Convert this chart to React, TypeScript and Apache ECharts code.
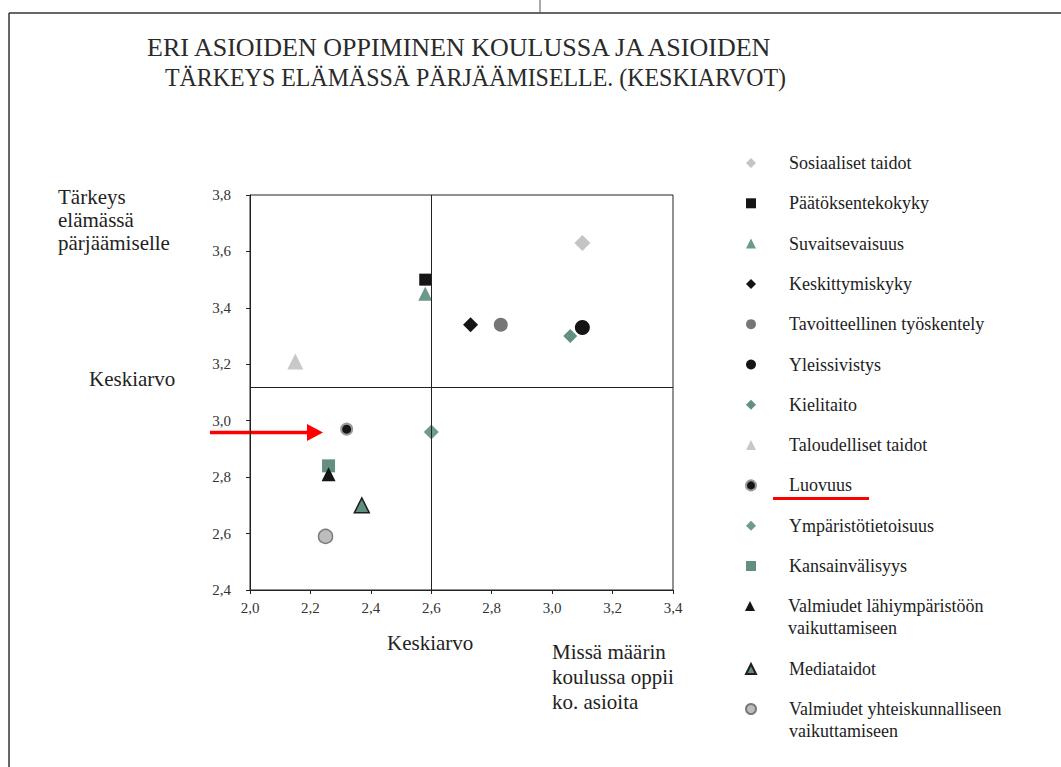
import React, { useEffect, useRef } from "react";
import * as echarts from "echarts";

const names = [
  "Sosiaaliset taidot",
  "Päätöksentekokyky",
  "Suvaitsevaisuus",
  "Keskittymiskyky",
  "Tavoitteellinen työskentely",
  "Yleissivistys",
  "Kielitaito",
  "Taloudelliset taidot",
  "Luovuus",
  "Ympäristötietoisuus",
  "Kansainvälisyys",
  "Valmiudet lähiympäristöön vaikuttamiseen",
  "Mediataidot",
  "Valmiudet yhteiskunnalliseen vaikuttamiseen",
];
const schoolValues = [3.1, 2.58, 2.58, 2.73, 2.83, 3.1, 3.06, 2.15, 2.32, 2.6, 2.26, 2.26, 2.37, 2.25];
const lifeValues = [3.63, 3.5, 3.45, 3.34, 3.34, 3.33, 3.3, 3.21, 2.97, 2.96, 2.84, 2.81, 2.7, 2.59];
const meanSchool = 2.6;
const meanLife = 3.12;
const xTicks = { min: 2.0, max: 3.4, step: 0.2 };
const yTicks = { min: 2.4, max: 3.8, step: 0.2 };

const symbols = ["diamond", "rect", "triangle", "diamond", "circle", "circle", "diamond", "triangle", "circle", "diamond", "rect", "triangle", "triangle", "circle"];
const colors = ["#c4c4c4", "#151515", "#6b9a8b", "#151515", "#767676", "#151515", "#628f80", "#c8c8c8", "#151515", "#6f9b8d", "#628f80", "#151515", "#5f8d7e", "#bdbdbd"];
const sizes = [16, 12, 14, 15, 14, 15, 14, 16, 11, 15, 13, 14, 15, 14];
const borderColors = ["", "", "", "", "", "", "", "", "#9a9a9a", "", "", "", "#1e1e1e", "#7a7a7a"];
const borderWidths = [0, 0, 0, 0, 0, 0, 0, 0, 2, 0, 0, 0, 1.5, 1.5];

const FONT = "'Liberation Serif', 'DejaVu Serif', serif";

export default function App() {
  const ref = useRef<HTMLDivElement>(null);
  useEffect(() => {
    if (!ref.current) return;
    const chart = echarts.init(ref.current, undefined, { renderer: "svg" });
    const fmt = (v: number) => v.toFixed(1).replace(".", ",");
    const splitName = (n: string) => {
      if (n === names[11]) return "\nValmiudet lähiympäristöön\nvaikuttamiseen";
      if (n === names[13]) return "\nValmiudet yhteiskunnalliseen\nvaikuttamiseen";
      return n;
    };
    const series: any[] = names.map((n, i) => ({
      type: "scatter",
      name: n,
      data: [[schoolValues[i], lifeValues[i]]],
      symbol: symbols[i],
      symbolSize: sizes[i],
      itemStyle: {
        color: colors[i],
        borderColor: borderColors[i] || colors[i],
        borderWidth: borderWidths[i],
        opacity: 1,
      },
      emphasis: { disabled: true },
      z: 3,
    }));
    series.push({
      type: "scatter",
      name: "__mean",
      data: [],
      silent: true,
      markLine: {
        silent: true,
        symbol: ["none", "none"],
        label: { show: false },
        lineStyle: { color: "#222", width: 1, type: "solid" },
        data: [{ xAxis: meanSchool }, { yAxis: meanLife }],
      },
      z: 2,
    });
    const legendBase = {
      orient: "vertical",
      left: 745,
      padding: 0,
      itemWidth: 10,
      itemHeight: 10,
      selectedMode: false,
      formatter: splitName,
      textStyle: {
        fontFamily: FONT,
        fontSize: 18,
        color: "#222",
        lineHeight: 22,
        padding: [0, 0, 0, 28],
      },
    };
    const option: any = {
      animation: false,
      backgroundColor: "#ffffff",
      grid: {
        left: 250,
        right: 388,
        top: 195,
        bottom: 177,
        show: true,
        borderColor: "#222",
        borderWidth: 1,
        containLabel: false,
      },
      xAxis: {
        type: "value",
        min: xTicks.min,
        max: xTicks.max,
        interval: xTicks.step,
        axisLine: { show: true, lineStyle: { color: "#222", width: 1 } },
        axisTick: { show: true, length: 4, lineStyle: { color: "#222" } },
        splitLine: { show: false },
        axisLabel: { formatter: fmt, fontFamily: FONT, fontSize: 15, color: "#333", margin: 10 },
      },
      yAxis: {
        type: "value",
        min: yTicks.min,
        max: yTicks.max,
        interval: yTicks.step,
        axisLine: { show: true, lineStyle: { color: "#222", width: 1 } },
        axisTick: { show: true, length: 4, lineStyle: { color: "#222" } },
        splitLine: { show: false },
        axisLabel: { formatter: fmt, fontFamily: FONT, fontSize: 15, color: "#333", margin: 19 },
      },
      legend: [
        { ...legendBase, top: 152, itemGap: 18.3, data: names.slice(0, 11) },
        { ...legendBase, top: 573, data: [names[11]] },
        { ...legendBase, top: 658, data: [names[12]] },
        { ...legendBase, top: 676, data: [names[13]] },
      ],
      graphic: [
        { type: "line", shape: { x1: 9, y1: 13, x2: 1061, y2: 13 }, style: { stroke: "#333", lineWidth: 1.5 } },
        { type: "line", shape: { x1: 9, y1: 13, x2: 9, y2: 767 }, style: { stroke: "#333", lineWidth: 1.5 } },
        { type: "line", shape: { x1: 540, y1: 0, x2: 540, y2: 13 }, style: { stroke: "#555", lineWidth: 1 } },
        {
          type: "text", x: 147, y: 47,
          style: { text: "ERI ASIOIDEN OPPIMINEN KOULUSSA JA ASIOIDEN", font: `26px ${FONT}`, fill: "#2a2a2a", verticalAlign: "middle" },
        },
        {
          type: "text", x: 165, y: 77, scaleX: 0.92,
          style: { text: "TÄRKEYS ELÄMÄSSÄ PÄRJÄÄMISELLE. (KESKIARVOT)", font: `26px ${FONT}`, fill: "#2a2a2a", verticalAlign: "middle" },
        },
        {
          type: "text", x: 58, y: 185,
          style: { text: "Tärkeys\nelämässä\npärjäämiselle", font: `21px ${FONT}`, fill: "#222", lineHeight: 23 },
        },
        { type: "text", x: 89, y: 379, style: { text: "Keskiarvo", font: `21px ${FONT}`, fill: "#222", verticalAlign: "middle" } },
        { type: "text", x: 387, y: 643, style: { text: "Keskiarvo", font: `21px ${FONT}`, fill: "#222", verticalAlign: "middle" } },
        {
          type: "text", x: 552, y: 639,
          style: { text: "Missä määrin\nkoulussa oppii\nko. asioita", font: `21px ${FONT}`, fill: "#222", lineHeight: 25 },
        },
        { type: "line", shape: { x1: 210, y1: 432.5, x2: 310, y2: 432.5 }, style: { stroke: "#f00", lineWidth: 3.5 } },
        { type: "polygon", shape: { points: [[307, 424], [323, 432.5], [307, 441]] }, style: { fill: "#f00" } },
        { type: "line", shape: { x1: 773, y1: 498.5, x2: 869, y2: 498.5 }, style: { stroke: "#f00", lineWidth: 3 } },
      ],
      series,
    };
    chart.setOption(option);
    return () => chart.dispose();
  }, []);
  return <div ref={ref} style={{ width: 1061, height: 767, position: "absolute", left: 0, top: 0 }} />;
}
